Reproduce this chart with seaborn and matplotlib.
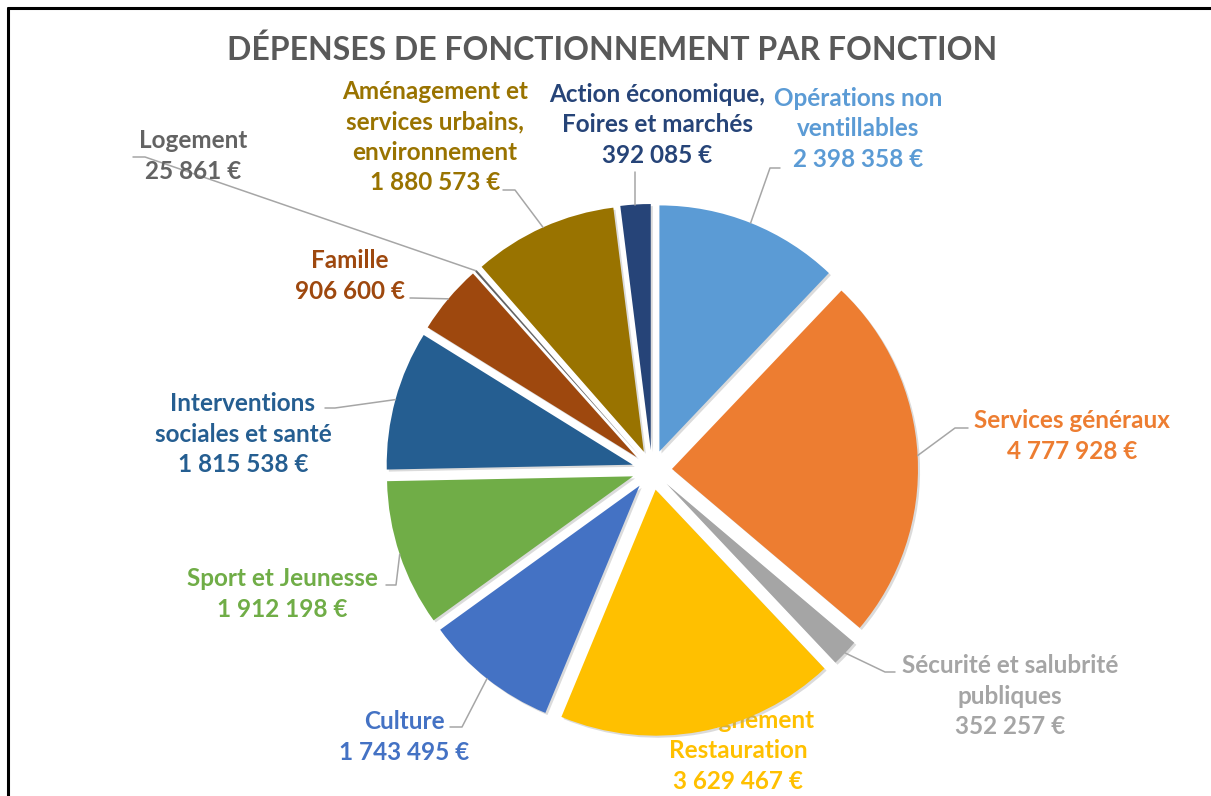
import matplotlib
matplotlib.use("Agg")
import numpy as np
import matplotlib.pyplot as plt
import matplotlib.patheffects as pe
import seaborn as sns

# data, clockwise from 12 o'clock
categories = [
    "Opérations non\nventillables",
    "Services généraux",
    "Sécurité et salubrité\npubliques",
    "Enseignement\nRestauration",
    "Culture",
    "Sport et Jeunesse",
    "Interventions\nsociales et santé",
    "Famille",
    "Logement",
    "Aménagement et\nservices urbains,\nenvironnement",
    "Action économique,\nFoires et marchés",
]
values = [2398358, 4777928, 352257, 3629467, 1743495, 1912198,
          1815538, 906600, 25861, 1880573, 392085]
colors = ["#5B9BD5", "#ED7D31", "#A5A5A5", "#FFC000", "#4472C4", "#70AD47",
          "#255E91", "#9E480E", "#636363", "#997300", "#264478"]
title = "DÉPENSES DE FONCTIONNEMENT PAR FONCTION"

W, H = 1211, 796


def fmt(v):
    return f"{v:,}".replace(",", " ") + " €"


# label layout in pixels (block centre, leader elbow, leader end)
label_pos = [(858, 129), (1072, 436), (1010, 696), (738, 751), (404, 737),
             (282, 594), (243, 434), (350, 276), (193, 156), (435, 137),
             (657, 125)]
leader = [((770, 168), (780, 168)), ((955, 428), (968, 428)),
          ((885, 672), (895, 672)), None, ((462, 727), (450, 727)),
          ((396, 585), (386, 585)), ((335, 408), (325, 408)),
          ((412, 298), (410, 298)), ((145, 157), (133, 157)),
          ((515, 190), (503, 190)), ("v", 172)]

sns.set_theme(style="white")
plt.rcParams["font.family"] = ["Lato", "DejaVu Sans"]

fig = plt.figure(figsize=(W / 100, H / 100), dpi=100)
ax = fig.add_axes([0, 0, 1, 1])

cx, cy, R, ex = 652, H - 470, 246, 20
wedges, _ = ax.pie(values, colors=colors, startangle=90, counterclock=False,
                   center=(cx, cy), radius=R, explode=[ex] * len(values),
                   frame=True, wedgeprops=dict(linewidth=0))
for w in wedges:
    w.set_path_effects([pe.SimplePatchShadow(offset=(1.5, -1.5), shadow_rgbFace="#999999", alpha=0.35),
                        pe.Normal()])
ax.set_xlim(0, W)
ax.set_ylim(0, H)
ax.axis("off")

for i, (cat, val, col) in enumerate(zip(categories, values, colors)):
    tx, ty = label_pos[i]
    ax.text(tx, H - ty, cat + "\n" + fmt(val), ha="center", va="center",
            color=col, fontsize=17.5, fontweight="bold", linespacing=1.38,
            zorder=0.5 if leader[i] is None else 3)
    w = wedges[i]
    a = np.deg2rad((w.theta1 + w.theta2) / 2)
    ax_x = w.center[0] + w.r * np.cos(a)
    ax_y = w.center[1] + w.r * np.sin(a)
    ld = leader[i]
    if ld is None:
        continue
    if ld[0] == "v":
        xs, ys = [ax_x, ax_x], [ax_y, H - ld[1]]
    else:
        (ex_, ey_), (tx2, ty2) = ld
        xs = [ax_x, ex_, tx2]
        ys = [ax_y, H - ey_, H - ty2]
    ax.plot(xs, ys, color="#A6A6A6", lw=1.1, zorder=2)

ax.text(612, H - 50, title, ha="center", va="center", color="#595959",
        fontsize=23, fontweight="bold")

# chart border (top and left edges visible)
ax.plot([8, W], [H - 8, H - 8], color="black", lw=2.2, clip_on=False)
ax.plot([8, 8], [H - 8, 0], color="black", lw=2.2, clip_on=False)

fig.savefig("out.png", dpi=100, facecolor="white")
